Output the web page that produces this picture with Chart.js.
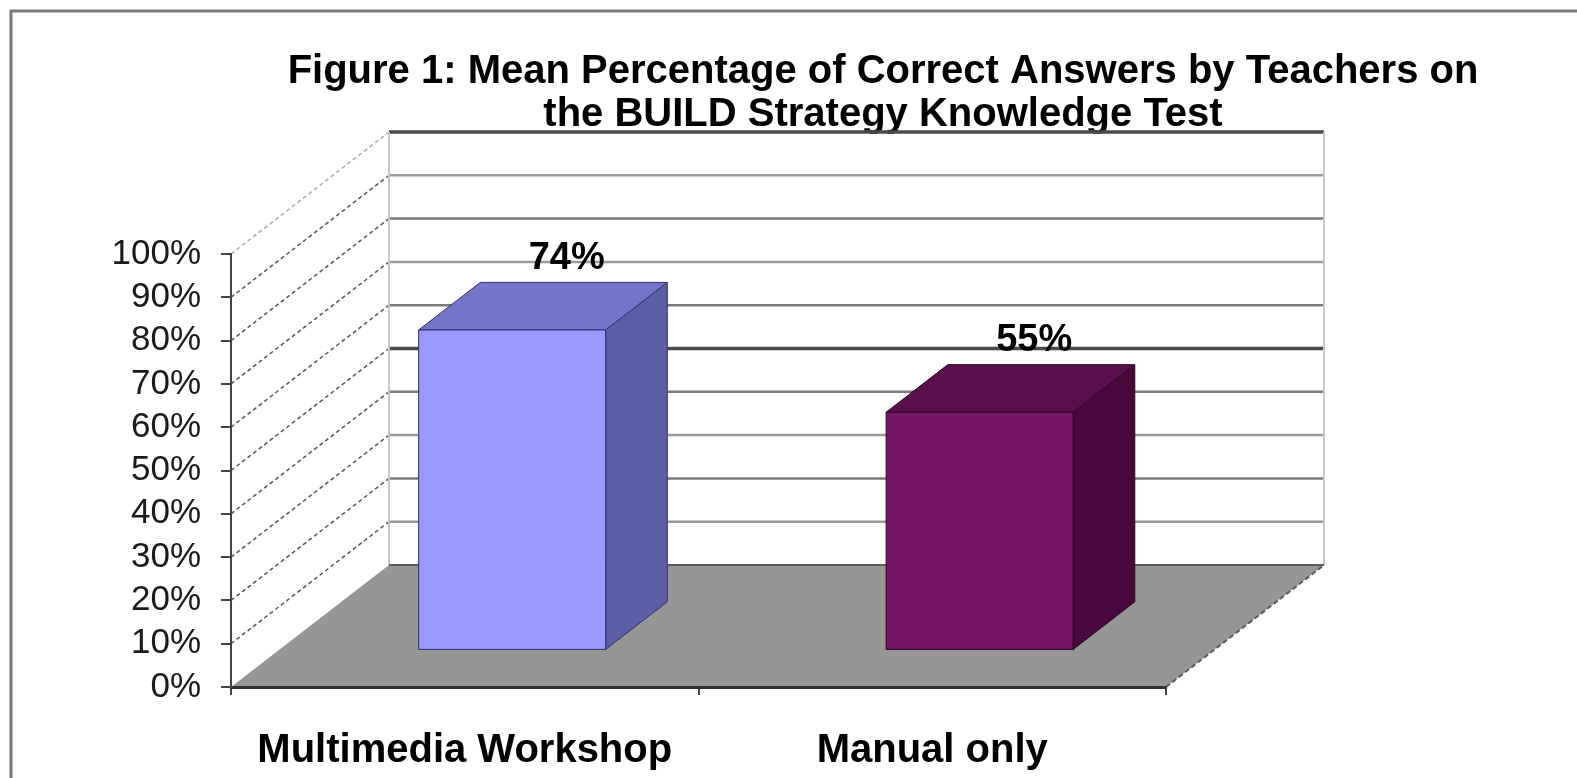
<!DOCTYPE html>
<html>
<head>
<meta charset="utf-8">
<script src="https://cdn.jsdelivr.net/npm/chart.js@4.4.0/dist/chart.umd.min.js"></script>
<style>
  html, body { margin: 0; padding: 0; background: #fff; }
</style>
</head>
<body>
<canvas id="barChart" width="1577" height="778"></canvas>
<script>
// data
const categories = ['Multimedia Workshop', 'Manual only'];
const meanPercent = [74, 55];
const yTickLabels = ['0%', '10%', '20%', '30%', '40%', '50%', '60%', '70%', '80%', '90%', '100%'];
const titleLines = [
  'Figure 1: Mean Percentage of Correct Answers by Teachers on',
  'the BUILD Strategy Knowledge Test'
];

const FONT = '"Liberation Sans", Arial, sans-serif';

// 3d look (excel style)
const DEPTH = { x: 158, y: -122 };   // back wall offset
const BAR_FRONT = 0.30, BAR_BACK = 0.69;
const barColors = [
  { front: '#9999ff', top: '#7275c8', side: '#5c5ea6', edge: '#30306e' },
  { front: '#761766', top: '#5a0e4b', side: '#49083c', edge: '#2a0222' }
];

function line(ctx, x1, y1, x2, y2) {
  ctx.beginPath();
  ctx.moveTo(x1, y1);
  ctx.lineTo(x2, y2);
  ctx.stroke();
}
function poly(ctx, pts, fill, stroke) {
  ctx.beginPath();
  ctx.moveTo(pts[0][0], pts[0][1]);
  for (let i = 1; i < pts.length; i++) ctx.lineTo(pts[i][0], pts[i][1]);
  ctx.closePath();
  ctx.fillStyle = fill;
  ctx.fill();
  ctx.strokeStyle = stroke;
  ctx.lineWidth = 1;
  ctx.stroke();
}

const box3d = {
  id: 'box3d',
  beforeDraw(chart) {
    const { ctx, chartArea: a, scales: { y } } = chart;
    ctx.save();

    // frame round the picture
    ctx.strokeStyle = '#7a7a7a';
    ctx.lineWidth = 3;
    ctx.strokeRect(11, 11, 1600, 820);

    // title
    ctx.fillStyle = '#000';
    ctx.font = 'bold 40px ' + FONT;
    ctx.textAlign = 'center';
    ctx.textBaseline = 'alphabetic';
    ctx.fillText(titleLines[0], 883, 83);
    ctx.fillText(titleLines[1], 883, 126);

    const y0 = y.getPixelForValue(0);
    const backL = a.left + DEPTH.x, backR = a.right + DEPTH.x;

    // side wall lines (dotted)
    ctx.lineWidth = 1.5;
    ctx.setLineDash([4, 3]);
    y.ticks.forEach((t, i) => {
      if (i === 0) return;
      const py = y.getPixelForValue(t.value);
      ctx.strokeStyle = i === y.ticks.length - 1 ? '#aaa' : '#555';
      line(ctx, a.left, py, a.left + DEPTH.x, py + DEPTH.y);
    });
    ctx.setLineDash([]);

    // back wall grid
    y.ticks.forEach((t, i) => {
      if (i === 0) return;
      const py = y.getPixelForValue(t.value) + DEPTH.y;
      const heavy = (i === 5 || i === 10);
      ctx.strokeStyle = heavy ? '#4a4a4a' : (i % 2 ? '#9a9a9a' : '#7a7a7a');
      ctx.lineWidth = heavy ? 3.5 : 2.5;
      line(ctx, backL, py, backR, py);
    });
    ctx.strokeStyle = '#c8c8c8';
    ctx.lineWidth = 2;
    const topBack = y.getPixelForValue(100) + DEPTH.y;
    line(ctx, backL, topBack, backL, y0 + DEPTH.y);
    line(ctx, backR, topBack, backR, y0 + DEPTH.y);

    // floor
    ctx.beginPath();
    ctx.moveTo(a.left, y0);
    ctx.lineTo(a.right, y0);
    ctx.lineTo(backR, y0 + DEPTH.y);
    ctx.lineTo(backL, y0 + DEPTH.y);
    ctx.closePath();
    ctx.fillStyle = '#969696';
    ctx.fill();
    ctx.strokeStyle = '#5a5a5a';
    ctx.lineWidth = 2;
    line(ctx, backL, y0 + DEPTH.y, backR, y0 + DEPTH.y);
    ctx.setLineDash([5, 3]);
    line(ctx, a.right, y0, backR, y0 + DEPTH.y);
    ctx.setLineDash([]);

    ctx.restore();
  },
  afterDatasetsDraw(chart) {
    const { ctx } = chart;
    const meta = chart.getDatasetMeta(0);
    const vals = chart.data.datasets[0].data;
    const fx = BAR_FRONT * DEPTH.x, fy = BAR_FRONT * DEPTH.y;
    const dx = (BAR_BACK - BAR_FRONT) * DEPTH.x, dy = (BAR_BACK - BAR_FRONT) * DEPTH.y;
    ctx.save();
    meta.data.forEach((bar, i) => {
      const c = barColors[i];
      const half = bar.width / 2;
      const L = bar.x - half + fx, R = bar.x + half + fx;
      const T = bar.y + fy, B = bar.base + fy;
      poly(ctx, [[R, T], [R + dx, T + dy], [R + dx, B + dy], [R, B]], c.side, c.edge);
      poly(ctx, [[L, T], [R, T], [R + dx, T + dy], [L + dx, T + dy]], c.top, c.edge);
      poly(ctx, [[L, T], [R, T], [R, B], [L, B]], c.front, c.edge);

      // value label
      ctx.fillStyle = '#000';
      ctx.font = 'bold 38px ' + FONT;
      ctx.textAlign = 'center';
      ctx.textBaseline = 'middle';
      ctx.fillText(vals[i] + '%', bar.x + 102, T + dy - 24);
    });
    ctx.restore();
  }
};

const ctx1 = document.getElementById('barChart');
const barChart = new Chart(ctx1, {
  type: 'bar',
  data: {
    labels: categories,
    datasets: [{
      label: 'Mean % correct',
      data: meanPercent,
      backgroundColor: 'rgba(0,0,0,0)',
      borderWidth: 0,
      barPercentage: 0.4,
      categoryPercentage: 1
    }]
  },
  options: {
    responsive: false,
    animation: false,
    layout: {
      padding: { left: 0, right: 411, top: 254, bottom: 0 }
    },
    plugins: {
      legend: { display: false },
      title: { display: false },
      tooltip: { enabled: false }
    },
    scales: {
      x: {
        grid: { drawOnChartArea: false, tickLength: 8, color: '#444', lineWidth: 2 },
        border: { color: '#333', width: 3 },
        ticks: {
          color: '#000',
          maxRotation: 0,
          padding: 32,
          font: { family: FONT, size: 40, weight: 'bold' }
        },
        afterFit: s => { s.height = 91; }
      },
      y: {
        min: 0,
        max: 100,
        ticks: {
          stepSize: 10,
          autoSkip: false,
          callback: (v, i) => yTickLabels[i],
          color: '#1a1a1a',
          padding: 20,
          font: { family: FONT, size: 35 }
        },
        grid: { drawOnChartArea: false, tickLength: 10, color: '#444', lineWidth: 2 },
        border: { color: '#444', width: 2 },
        afterFit: s => { s.width = 231; }
      }
    }
  },
  plugins: [box3d]
});
</script>
</body>
</html>
